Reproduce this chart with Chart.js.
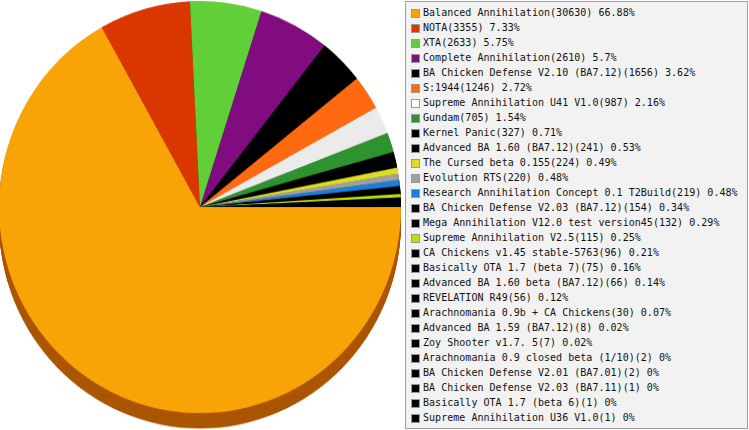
<!DOCTYPE html>
<html lang="en">
<head>
    <meta charset="UTF-8">
    <title>Mods</title>
    <script src="https://cdn.jsdelivr.net/npm/chart.js"></script>
    <style>
        html, body { margin: 0; padding: 0; background: #fff; }
        #page { position: relative; width: 749px; height: 430px; overflow: hidden; }
        #pieWrap {
            position: absolute; left: -1px; top: 1px; width: 402px; height: 420px;
            transform: scaleY(1.025); transform-origin: 0 0;
        }
        #legend {
            position: absolute; left: 405px; top: 1px; width: 343px; height: 428px;
            box-sizing: border-box; border: 1px solid #a0a0a0; background: #f2f2f2;
            padding-top: 3px;
            font-family: "DejaVu Sans Mono", monospace; font-size: 10px; color: #111;
            letter-spacing: 0.03px;
        }
        .row { height: 15px; line-height: 15px; white-space: nowrap; position: relative; }
        .box {
            position: absolute; left: 5px; top: 4px; width: 9px; height: 9px;
            box-sizing: border-box; border: 1px solid #999;
        }
        .txt { position: absolute; left: 17px; top: 0; }
    </style>
</head>
<body>
<div id="page">
    <div id="pieWrap"><canvas id="chart"></canvas></div>
    <div id="legend"></div>
</div>
<script>
    const mods = [
        'Balanced Annihilation', 'NOTA', 'XTA', 'Complete Annihilation',
        'BA Chicken Defense V2.10 (BA7.12)', 'S:1944', 'Supreme Annihilation U41 V1.0',
        'Gundam', 'Kernel Panic', 'Advanced BA 1.60 (BA7.12)', 'The Cursed beta 0.155',
        'Evolution RTS', 'Research Annihilation Concept 0.1 T2Build',
        'BA Chicken Defense V2.03 (BA7.12)', 'Mega Annihilation V12.0 test version45',
        'Supreme Annihilation V2.5', 'CA Chickens v1.45 stable-5763', 'Basically OTA 1.7 (beta 7)',
        'Advanced BA 1.60 beta (BA7.12)', 'REVELATION R49', 'Arachnomania 0.9b + CA Chickens',
        'Advanced BA 1.59 (BA7.12)', 'Zoy Shooter v1.7. 5', 'Arachnomania 0.9 closed beta (1/10)',
        'BA Chicken Defense V2.01 (BA7.01)', 'BA Chicken Defense V2.03 (BA7.11)',
        'Basically OTA 1.7 (beta 6)', 'Supreme Annihilation U36 V1.0'
    ];
    const games = [30630, 3355, 2633, 2610, 1656, 1246, 987, 705, 327, 241, 224, 220, 219,
        154, 132, 115, 96, 75, 66, 56, 30, 8, 7, 2, 2, 1, 1, 1];
    const shares = ['66.88', '7.33', '5.75', '5.7', '3.62', '2.72', '2.16', '1.54', '0.71',
        '0.53', '0.49', '0.48', '0.48', '0.34', '0.29', '0.25', '0.21', '0.16', '0.14', '0.12',
        '0.07', '0.02', '0.02', '0', '0', '0', '0', '0'];
    const colors = ['#f8a306', '#da3700', '#60cf38', '#800c80', '#000000', '#ff6a10', '#ebebeb',
        '#2e922e', '#000000', '#000000', '#dddd22', '#a0a0a0', '#1a80d8', '#000000', '#000000',
        '#bde000', '#000000', '#000000', '#000000', '#000000', '#000000', '#000000', '#000000',
        '#000000', '#000000', '#000000', '#000000', '#000000'];
    const legendColors = colors.map(c => c === '#ebebeb' ? '#ffffff' : c);

    // darker tone for the pie's side wall
    function shade(hex) {
        const n = parseInt(hex.slice(1), 16);
        const r = Math.round(((n >> 16) & 255) * 0.69);
        const g = Math.round(((n >> 8) & 255) * 0.52);
        const b = Math.round((n & 255) * 0.5);
        return `rgb(${r},${g},${b})`;
    }

    const depth = 15;
    const sideWall = {
        id: 'sideWall',
        beforeDatasetsDraw(chart) {
            const ctx = chart.ctx;
            const arcs = chart.getDatasetMeta(0).data;
            ctx.save();
            for (let d = depth; d >= 1; d--) {
                arcs.forEach((arc, i) => {
                    const p = arc.getProps(['x', 'y', 'startAngle', 'endAngle', 'outerRadius'], true);
                    ctx.beginPath();
                    ctx.moveTo(p.x, p.y + d);
                    ctx.arc(p.x, p.y + d, p.outerRadius, p.startAngle, p.endAngle);
                    ctx.closePath();
                    ctx.fillStyle = shade(colors[i]);
                    ctx.fill();
                });
            }
            ctx.restore();
        }
    };

    new Chart(document.getElementById('chart'), {
        type: 'pie',
        data: {
            labels: mods,
            datasets: [{
                data: games,
                backgroundColor: colors,
                borderWidth: 0,
                hoverOffset: 0
            }]
        },
        options: {
            responsive: true,
            maintainAspectRatio: false,
            animation: false,
            rotation: 90,
            layout: { padding: { bottom: 18 } },
            plugins: {
                legend: { display: false },
                tooltip: { enabled: false }
            },
            events: []
        },
        plugins: [sideWall]
    });

    const legend = document.getElementById('legend');
    mods.forEach((m, i) => {
        const row = document.createElement('div');
        row.className = 'row';
        const box = document.createElement('span');
        box.className = 'box';
        box.style.background = legendColors[i];
        const txt = document.createElement('span');
        txt.className = 'txt';
        txt.textContent = `${m}(${games[i]}) ${shares[i]}%`;
        row.appendChild(box);
        row.appendChild(txt);
        legend.appendChild(row);
    });
</script>
</body>
</html>
